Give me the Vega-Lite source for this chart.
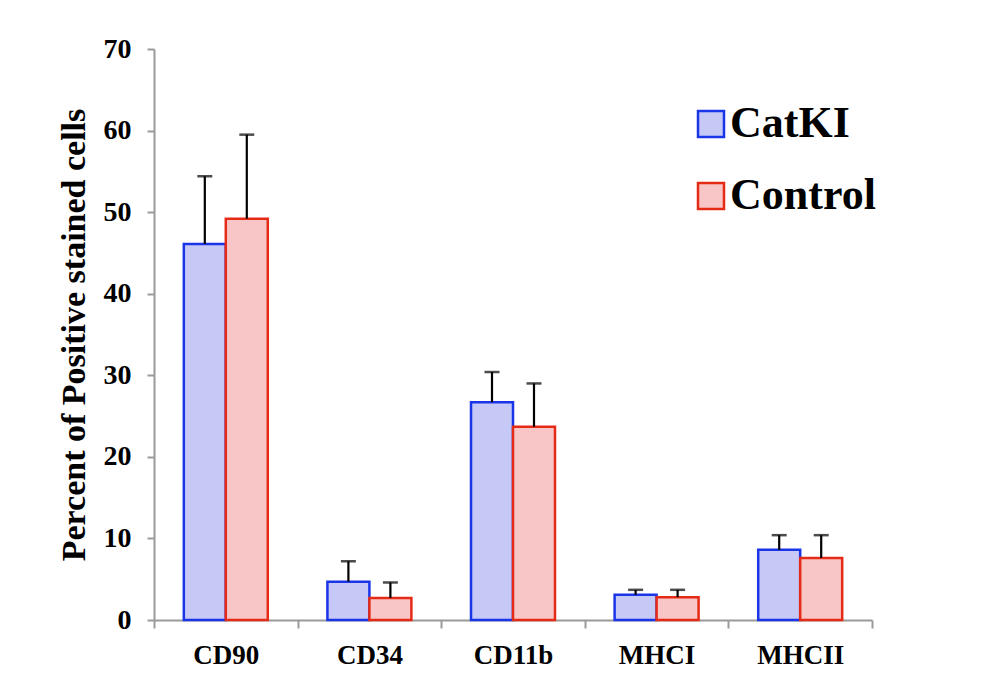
{
  "$schema": "https://vega.github.io/schema/vega-lite/v6.json",
  "width": 718,
  "height": 571,
  "autosize": {"type": "none"},
  "padding": {"left": 154, "top": 49, "right": 133, "bottom": 78},
  "background": "white",
  "config": {
    "view": {"stroke": null},
    "font": "Liberation Serif",
    "axis": {"labelFont": "Liberation Serif", "titleFont": "Liberation Serif", "labelFontWeight": "bold", "titleFontWeight": "bold", "labelColor": "black", "titleColor": "black", "domainColor": "#9a9a9a", "tickColor": "#9a9a9a", "domainWidth": 2, "tickWidth": 2, "grid": false}
  },
  "data": {
    "values": [
      {"marker": "CD90", "group": "CatKI", "value": 46.1, "upper": 54.4},
      {"marker": "CD90", "group": "Control", "value": 49.2, "upper": 59.5},
      {"marker": "CD34", "group": "CatKI", "value": 4.7, "upper": 7.2},
      {"marker": "CD34", "group": "Control", "value": 2.7, "upper": 4.6},
      {"marker": "CD11b", "group": "CatKI", "value": 26.7, "upper": 30.4},
      {"marker": "CD11b", "group": "Control", "value": 23.7, "upper": 29.0},
      {"marker": "MHCI", "group": "CatKI", "value": 3.1, "upper": 3.7},
      {"marker": "MHCI", "group": "Control", "value": 2.8, "upper": 3.7},
      {"marker": "MHCII", "group": "CatKI", "value": 8.6, "upper": 10.4},
      {"marker": "MHCII", "group": "Control", "value": 7.6, "upper": 10.4}
    ]
  },
  "encoding": {
    "x": {
      "field": "marker", "type": "nominal",
      "sort": ["CD90", "CD34", "CD11b", "MHCI", "MHCII"],
      "scale": {"paddingInner": 0, "paddingOuter": 0},
      "axis": {"title": null, "labelAngle": 0, "labelFontSize": 27, "tickBand": "extent", "tickSize": 8, "labelPadding": 14}
    },
    "xOffset": {
      "field": "group", "type": "nominal", "sort": ["CatKI", "Control"],
      "scale": {"paddingInner": 0, "paddingOuter": 0.71}
    }
  },
  "layer": [
    {
      "mark": {"type": "bar", "strokeWidth": 2.5, "fillOpacity": 1},
      "encoding": {
        "y": {
          "field": "value", "type": "quantitative",
          "scale": {"domain": [0, 70]},
          "axis": {"title": "Percent of Positive stained cells", "values": [0, 10, 20, 30, 40, 50, 60, 70], "labelFontSize": 28, "titleFontSize": 34, "tickSize": 7, "labelPadding": 16, "titlePadding": 12}
        },
        "fill": {
          "field": "group", "type": "nominal", "sort": ["CatKI", "Control"],
          "scale": {"range": ["#c6c8f6", "#f8c6c6"]},
          "legend": {
            "title": null, "orient": "none", "legendX": 535, "legendY": 53,
            "symbolType": "square", "symbolSize": 676, "symbolStrokeWidth": 2.5,
            "labelFontSize": 44, "labelFontWeight": "bold", "labelFont": "Liberation Serif", "labelColor": "black",
            "labelOffset": -3, "rowPadding": 28, "padding": 0,
            "encode": {"symbols": {"update": {"stroke": {"scale": "stroke", "field": "value"}, "fill": {"scale": "fill", "field": "value"}, "fillOpacity": {"value": 1}}}}
          }
        },
        "stroke": {
          "field": "group", "type": "nominal", "sort": ["CatKI", "Control"],
          "scale": {"range": ["#1a35e8", "#e52a16"]},
          "legend": null
        }
      }
    },
    {
      "mark": {"type": "rule", "color": "black", "strokeWidth": 2.2},
      "encoding": {
        "y": {"field": "value", "type": "quantitative"},
        "y2": {"field": "upper"}
      }
    },
    {
      "mark": {"type": "tick", "color": "black", "thickness": 2.5, "size": 15},
      "encoding": {
        "y": {"field": "upper", "type": "quantitative"}
      }
    }
  ]
}
